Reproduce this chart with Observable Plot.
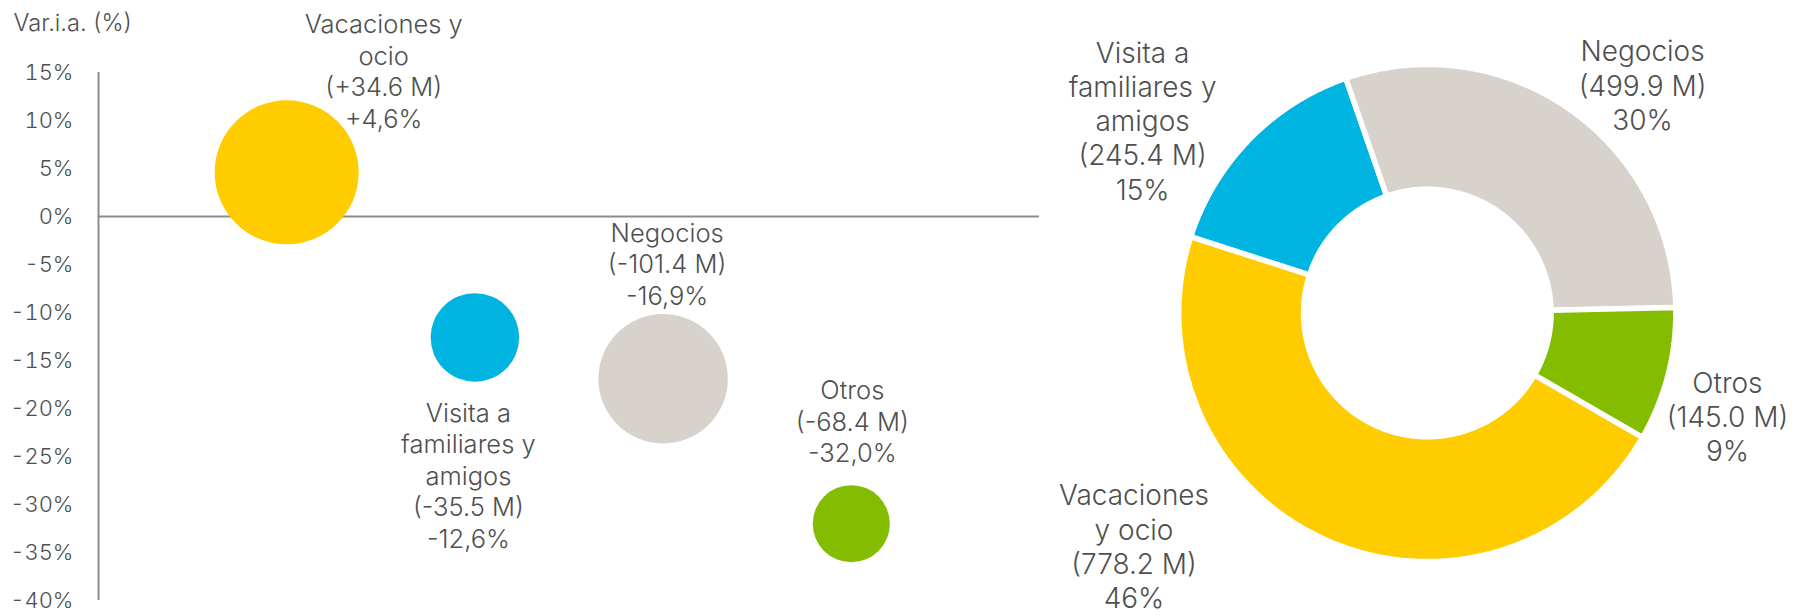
<!DOCTYPE html>
<html>
<head>
<meta charset="utf-8">
<script src="https://cdn.jsdelivr.net/npm/d3@7"></script>
<script src="https://cdn.jsdelivr.net/npm/@observablehq/plot@0.6"></script>
<style>
  html, body { margin: 0; padding: 0; background: #ffffff; }
  #wrap { display: flex; width: 1797px; height: 615px; overflow: hidden; }
  #wrap svg { display: block; }
</style>
</head>
<body>
<div id="wrap"></div>
<script>
// ---------------- DATA ----------------
const categories   = ["Vacaciones y ocio", "Visita a familiares y amigos", "Negocios", "Otros"];
const bubbleNames  = ["Vacaciones y\nocio", "Visita a\nfamiliares y\namigos", "Negocios", "Otros"];
const donutNames   = ["Vacaciones\ny ocio", "Visita a\nfamiliares y\namigos", "Negocios", "Otros"];
const colors       = ["#FFCC00", "#00B4E1", "#D7D2CB", "#84BD00"];
const spendM       = [778.2, 245.4, 499.9, 145.0];    // gasto actual (M)
const changeM      = [34.6, -35.5, -101.4, -68.4];    // variación absoluta (M)
const changePct    = [4.6, -12.6, -16.9, -32.0];      // variación interanual (%)
const sharePct     = [46, 15, 30, 9];                 // cuota (%)
const yTicks       = [15, 10, 5, 0, -5, -10, -15, -20, -25, -30, -35, -40];
const yLabel       = "Var.i.a. (%)";

// ---------------- HELPERS ----------------
const FONT = "Inter, 'Open Sans', sans-serif";
const TXT = "#4f4f4f";
const signed = v => (v > 0 ? "+" : v < 0 ? "-" : "") + Math.abs(v).toFixed(1);

// ---------------- LEFT: bubble chart ----------------
const bubbles = categories.map((c, i) => ({
  cat: c,
  pos: i + 1,
  pct: changePct[i],
  prev: spendM[i] - changeM[i],
  label: bubbleNames[i] + "\n(" + signed(changeM[i]) + " M)\n" + signed(changePct[i]).replace(".", ",") + "%"
}));

// label offsets (layout only)
const bubbleLabelOffsets = [[97, -102], [-6.5, 137], [4, -115.5], [1, -103]];

const left = Plot.plot({
  width: 1060,
  height: 615,
  marginTop: 72,
  marginBottom: 15,
  marginLeft: 98,
  marginRight: 21,
  style: { fontFamily: FONT, color: TXT, background: "transparent", overflow: "visible", fontWeight: 300 },
  x: { domain: [0, 5], axis: null },
  y: { domain: [-40, 15] },
  r: { type: "sqrt", domain: [0, d3.max(bubbles, d => d.prev)], range: [0, 72] },
  color: { domain: categories, range: colors },
  marks: [
    Plot.axisY(yTicks, {
      tickSize: 0,
      tickPadding: 25,
      tickFormat: d => (d < 0 ? "-" : "") + Math.abs(d) + "%",
      fontSize: 22,
      fill: TXT,
      label: null
    }),
    Plot.text([yLabel], {
      frameAnchor: "top-left", dx: -85, dy: -49,
      textAnchor: "start", lineAnchor: "middle",
      fontSize: 23.6, fill: TXT
    }),
    Plot.ruleY([0], { stroke: "#8c8c8c", strokeWidth: 2 }),
    Plot.ruleX([0], { stroke: "#8c8c8c", strokeWidth: 2 }),
    Plot.dot(bubbles, { x: "pos", y: "pct", r: "prev", fill: "cat", stroke: "none" }),
    ...bubbles.map((d, i) => Plot.text([d], {
      x: "pos", y: "pct", text: "label",
      dx: bubbleLabelOffsets[i][0], dy: bubbleLabelOffsets[i][1],
      textAnchor: "middle", lineAnchor: "middle", lineHeight: 1.235,
      fontSize: 25.5, fill: TXT
    }))
  ]
});

// ---------------- RIGHT: donut chart ----------------
const R_PIX = 245.8;           // visible outer radius in px
const GAP = 5.5;               // white separator width
const rOut = 1 + (GAP / 2) / R_PIX;
const rIn = (126.5 - GAP / 2) / R_PIX;

const arcs = d3.pie().sort(null).value(d => d)
  .startAngle(120 * Math.PI / 180).endAngle(480 * Math.PI / 180)(spendM);

const ringPts = [];
arcs.forEach((a, i) => {
  const n = Math.max(4, Math.ceil((a.endAngle - a.startAngle) / (Math.PI / 360)));
  for (let k = 0; k <= n; k++) {
    const t = a.startAngle + (a.endAngle - a.startAngle) * k / n;
    ringPts.push({ cat: categories[i], x: rOut * Math.sin(t), y: rOut * Math.cos(t) });
  }
  for (let k = n; k >= 0; k--) {
    const t = a.startAngle + (a.endAngle - a.startAngle) * k / n;
    ringPts.push({ cat: categories[i], x: rIn * Math.sin(t), y: rIn * Math.cos(t) });
  }
});

const donutLabels = arcs.map((a, i) => {
  const m = (a.startAngle + a.endAngle) / 2;
  return {
    x: Math.sin(m), y: Math.cos(m),
    label: donutNames[i] + "\n(" + spendM[i].toFixed(1) + " M)\n" + sharePct[i] + "%"
  };
});
const donutLabelOffsets = [[-193.5, 8], [-109, -20.5], [75, -26.5], [62, 42.5]];

const cx = 366.8, cy = 312.5;
const right = Plot.plot({
  width: 737,
  height: 615,
  margin: 0,
  style: { fontFamily: FONT, color: TXT, background: "transparent", overflow: "visible", fontWeight: 300 },
  x: { domain: [-1, 1], range: [cx - R_PIX, cx + R_PIX], axis: null },
  y: { domain: [-1, 1], range: [cy + R_PIX, cy - R_PIX], axis: null },
  color: { domain: categories, range: colors },
  marks: [
    Plot.line(ringPts, {
      x: "x", y: "y", z: "cat", fill: "cat",
      stroke: "#ffffff", strokeWidth: GAP, strokeLinejoin: "miter",
      curve: "linear-closed"
    }),
    ...donutLabels.map((d, i) => Plot.text([d], {
      x: "x", y: "y", text: "label",
      dx: donutLabelOffsets[i][0], dy: donutLabelOffsets[i][1],
      textAnchor: "middle", lineAnchor: "middle", lineHeight: 1.215,
      fontSize: 28, fill: TXT
    }))
  ]
});

document.getElementById("wrap").append(left, right);
</script>
</body>
</html>
